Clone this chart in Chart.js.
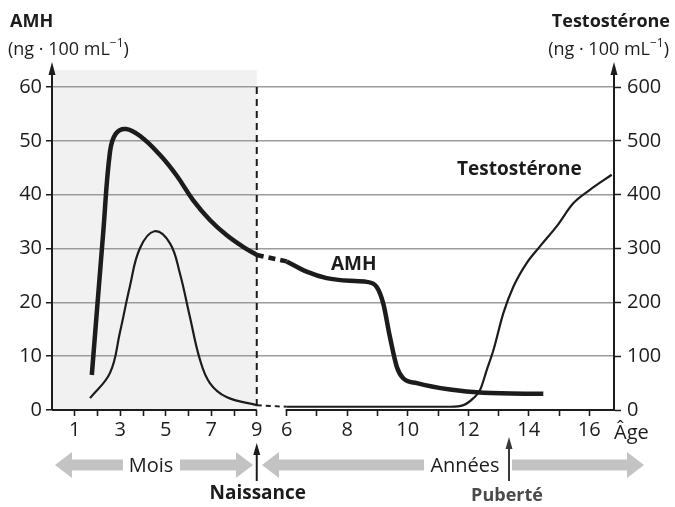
<!DOCTYPE html>
<html>
<head>
<meta charset="utf-8">
<script src="https://cdn.jsdelivr.net/npm/chart.js@4/dist/chart.umd.min.js"></script>
<style>
  html, body { margin: 0; padding: 0; background: #fff; }
  canvas { display: block; }
</style>
</head>
<body>
<canvas id="c" width="675" height="507"></canvas>
<script>
// ---------- DATA ----------
// AMH (ng·100 mL-1), first months (foetal, months of gestation)
const amhMonthAge   = [1.75, 2.25, 2.55, 2.8, 3.25, 3.9, 4.74, 5.47, 6.2, 6.94, 7.67, 8.4, 9.0];
const amhMonthValue = [6.5, 32.9, 48.0, 51.3, 52.2, 50.8, 47.4, 43.6, 39.0, 35.3, 32.5, 30.3, 28.8];
// AMH after birth (years)
const amhYearAge    = [6.0, 6.66, 7.32, 8.09, 8.64, 8.97, 9.19, 9.41, 9.64, 9.85, 10.30, 11.40, 12.50, 14.48];
const amhYearValue  = [27.6, 25.7, 24.5, 24.0, 23.8, 22.9, 19.8, 13.6, 8.0, 5.9, 5.0, 3.8, 3.2, 3.0];
// Testosterone (ng·100 mL-1), months
const testoMonthAge   = [1.67, 2.55, 2.98, 3.42, 3.86, 4.5, 5.18, 5.62, 6.06, 6.5, 6.94, 7.67, 9.0];
const testoMonthValue = [22, 69, 143, 229, 300, 332, 310, 254, 173, 94, 50, 24, 9];
// Testosterone, years
const testoYearAge   = [6.0, 10.41, 11.40, 11.84, 12.17, 12.39, 12.61, 12.83, 13.16, 13.49, 13.93, 14.37, 14.92, 15.47, 16.02, 16.74];
const testoYearValue = [6, 6, 6, 9, 22, 37, 74, 111, 180, 229, 273, 304, 341, 384, 409, 437];

// Tick labels
const monthTicks = [1, 2, 3, 4, 5, 6, 7, 8, 9];
const monthTickLabels = ['1', '', '3', '', '5', '', '7', '', '9'];
const yearTicks = [6, 7, 8, 9, 10, 11, 12, 13, 14, 15, 16];
const yearTickLabels = ['6', '', '8', '', '10', '', '12', '', '14', '', '16'];
const amhAxis = { min: 0, max: 60, step: 10 };
const testoAxis = { min: 0, max: 600, step: 100 };

// ---------- broken age axis: months, then years ----------
const MONTH_W = 22.75;
const YEAR0 = 234.7, YEAR_W = 30.26;
const posMonth = m => m * MONTH_W;
const posYear = y => YEAR0 + (y - 6) * YEAR_W;
const X_MAX = 562;

const xTickList = monthTicks.map((m, i) => ({ pos: posMonth(m), label: monthTickLabels[i] }))
  .concat(yearTicks.map((y, i) => ({ pos: posYear(y), label: yearTickLabels[i] })));

const zip = (xs, ys, f) => xs.map((x, i) => ({ x: f(x), y: ys[i] }));

const FONT = '"Open Sans", "Noto Sans", sans-serif';
const INK = '#1c1c1c';
const SMOOTH = { cubicInterpolationMode: 'default', tension: 0.4 };
const MONO = { cubicInterpolationMode: 'monotone' };

const datasets = [
  Object.assign({ data: zip(testoMonthAge, testoMonthValue, posMonth), yAxisID: 'y1', borderColor: INK, borderWidth: 2.2 }, SMOOTH),
  { data: [{ x: posMonth(testoMonthAge[testoMonthAge.length - 1]), y: testoMonthValue[testoMonthValue.length - 1] },
           { x: posYear(testoYearAge[0]), y: testoYearValue[0] }],
    yAxisID: 'y1', borderColor: INK, borderWidth: 2, borderDash: [5, 4] },
  Object.assign({ data: zip(testoYearAge, testoYearValue, posYear), yAxisID: 'y1', borderColor: INK, borderWidth: 2.2 }, MONO),
  Object.assign({ data: zip(amhMonthAge, amhMonthValue, posMonth), yAxisID: 'y', borderColor: INK, borderWidth: 4.5 }, SMOOTH),
  { data: [{ x: posMonth(amhMonthAge[amhMonthAge.length - 1]), y: amhMonthValue[amhMonthValue.length - 1] },
           { x: posYear(amhYearAge[0]), y: amhYearValue[0] }],
    yAxisID: 'y', borderColor: INK, borderWidth: 4.5, borderDash: [7, 5] },
  Object.assign({ data: zip(amhYearAge, amhYearValue, posYear), yAxisID: 'y', borderColor: INK, borderWidth: 4.5 }, MONO)
].map(d => Object.assign({ showLine: true, pointRadius: 0, fill: false, borderCapStyle: 'butt', borderJoinStyle: 'round' }, d));

function arrowHead(ctx, x, y, w, h, color) {
  ctx.fillStyle = color;
  ctx.beginPath();
  ctx.moveTo(x, y);
  ctx.lineTo(x - w / 2, y + h);
  ctx.lineTo(x + w / 2, y + h);
  ctx.closePath();
  ctx.fill();
}

function bigArrow(ctx, x1, x2, yc, color) {
  const bh = 11, hh = 26, hl = 17;
  ctx.fillStyle = color;
  ctx.beginPath();
  ctx.moveTo(x1, yc);
  ctx.lineTo(x1 + hl, yc - hh / 2);
  ctx.lineTo(x1 + hl, yc - bh / 2);
  ctx.lineTo(x2 - hl, yc - bh / 2);
  ctx.lineTo(x2 - hl, yc - hh / 2);
  ctx.lineTo(x2, yc);
  ctx.lineTo(x2 - hl, yc + hh / 2);
  ctx.lineTo(x2 - hl, yc + bh / 2);
  ctx.lineTo(x1 + hl, yc + bh / 2);
  ctx.lineTo(x1 + hl, yc + hh / 2);
  ctx.closePath();
  ctx.fill();
}

function drawUnit(ctx, x, y, alignRight) {
  const main = '18px ' + FONT, sup = '12px ' + FONT;
  ctx.textAlign = 'left'; ctx.textBaseline = 'alphabetic';
  ctx.font = main;
  const w1 = ctx.measureText('(ng · 100 mL').width;
  const w3 = ctx.measureText(')').width;
  ctx.font = sup;
  const w2 = ctx.measureText('−1').width;
  const sx = alignRight ? x - (w1 + w2 + w3) : x;
  ctx.font = main; ctx.fillText('(ng · 100 mL', sx, y);
  ctx.font = sup; ctx.fillText('−1', sx + w1, y - 8);
  ctx.font = main; ctx.fillText(')', sx + w1 + w2, y);
}

const decor = {
  id: 'decor',
  beforeDraw(chart) {
    const { ctx, chartArea: a, scales } = chart;
    ctx.save();
    ctx.fillStyle = '#fff';
    ctx.fillRect(0, 0, chart.width, chart.height);
    const xb = scales.x.getPixelForValue(posMonth(9));
    ctx.fillStyle = '#f1f1f1';
    ctx.fillRect(a.left, 70, xb - a.left, a.bottom - 70);
    ctx.restore();
  },
  beforeDatasetsDraw(chart) {
    const { ctx, chartArea: a, scales } = chart;
    const xb = scales.x.getPixelForValue(posMonth(9));
    const xy = scales.x.getPixelForValue(posYear(6));
    ctx.save();
    // birth dashed line
    ctx.strokeStyle = INK; ctx.lineWidth = 2; ctx.setLineDash([7, 5]);
    ctx.beginPath(); ctx.moveTo(xb, a.top); ctx.lineTo(xb, a.bottom); ctx.stroke();
    ctx.setLineDash([]);
    // broken x axis line
    ctx.lineWidth = 2;
    ctx.beginPath();
    ctx.moveTo(a.left, a.bottom); ctx.lineTo(xb, a.bottom);
    ctx.moveTo(xy - 1, a.bottom); ctx.lineTo(a.right, a.bottom);
    ctx.stroke();
    // axis extensions + arrows
    ctx.beginPath();
    ctx.moveTo(a.left, a.top); ctx.lineTo(a.left, 72);
    ctx.moveTo(a.right, a.top); ctx.lineTo(a.right, 72);
    ctx.stroke();
    arrowHead(ctx, a.left, 62, 7, 13, INK);
    arrowHead(ctx, a.right, 62, 7, 13, INK);
    ctx.restore();
  },
  afterDraw(chart) {
    const { ctx, scales } = chart;
    const xb = scales.x.getPixelForValue(posMonth(9));
    ctx.save();
    ctx.fillStyle = INK;
    ctx.textBaseline = 'alphabetic';
    // axis titles
    ctx.font = 'bold 18px ' + FONT; ctx.textAlign = 'left';
    ctx.fillText('AMH', 10, 27);
    drawUnit(ctx, 8, 55, false);
    ctx.font = 'bold 18px ' + FONT; ctx.textAlign = 'right';
    ctx.fillText('Testostérone', 670, 27);
    drawUnit(ctx, 669, 55, true);
    // curve labels
    ctx.font = 'bold 19px ' + FONT; ctx.textAlign = 'left';
    ctx.fillText('AMH', 331, 270);
    ctx.fillText('Testostérone', 457, 175);
    // Âge
    ctx.font = '20px ' + FONT; ctx.textAlign = 'left';
    ctx.fillText('Âge', 614, 439);
    // big grey arrows
    const yc = 465;
    bigArrow(ctx, 55, 253, yc, '#c3c3c3');
    bigArrow(ctx, 262, 644, yc, '#c3c3c3');
    ctx.fillStyle = '#fff';
    ctx.fillRect(123, yc - 7, 57, 14);
    ctx.fillRect(424, yc - 7, 88, 14);
    ctx.fillStyle = INK;
    ctx.font = '20px ' + FONT; ctx.textAlign = 'center';
    ctx.fillText('Mois', 151, 472);
    ctx.fillText('Années', 465, 472);
    // Naissance arrow
    ctx.strokeStyle = INK; ctx.lineWidth = 2;
    ctx.beginPath(); ctx.moveTo(xb, 481); ctx.lineTo(xb, 452); ctx.stroke();
    arrowHead(ctx, xb, 443, 7, 12, INK);
    ctx.font = 'bold 19px ' + FONT;
    ctx.fillText('Naissance', xb + 1, 499);
    // Puberté arrow
    const xp = 509;
    ctx.strokeStyle = '#3a3a3a';
    ctx.beginPath(); ctx.moveTo(xp, 481); ctx.lineTo(xp, 446); ctx.stroke();
    arrowHead(ctx, xp, 437, 7, 12, '#3a3a3a');
    ctx.fillStyle = '#4a4a4a';
    ctx.font = 'bold 18px ' + FONT;
    ctx.fillText('Puberté', xp - 2, 501);
    ctx.restore();
  }
};

new Chart(document.getElementById('c'), {
  type: 'scatter',
  data: { datasets },
  options: {
    responsive: false,
    animation: false,
    events: [],
    layout: { padding: { top: 87, left: 0, right: 0, bottom: 0 } },
    plugins: { legend: { display: false }, tooltip: { enabled: false } },
    scales: {
      x: {
        type: 'linear', min: 0, max: X_MAX,
        afterFit: s => { s.height = 97; },
        afterBuildTicks: s => { s.ticks = xTickList.map(t => ({ value: t.pos })); },
        ticks: {
          autoSkip: false, maxRotation: 0, minRotation: 0, padding: 2,
          color: INK, font: { family: FONT, size: 20 },
          callback: (v, i) => xTickList[i] ? xTickList[i].label : ''
        },
        grid: { drawOnChartArea: false, drawTicks: true, tickLength: 6, tickColor: INK, tickWidth: 1.6 },
        border: { display: false }
      },
      y: {
        position: 'left', min: amhAxis.min, max: amhAxis.max,
        afterFit: s => { s.width = 52; },
        ticks: { stepSize: amhAxis.step, padding: 4, color: INK, font: { family: FONT, size: 20 } },
        grid: {
          color: c => c.tick && c.tick.value === 0 ? 'rgba(0,0,0,0)' : '#9c9c9c',
          lineWidth: 1.5, tickLength: 6, tickColor: INK, tickWidth: 1.5
        },
        border: { color: INK, width: 2 }
      },
      y1: {
        position: 'right', min: testoAxis.min, max: testoAxis.max,
        afterFit: s => { s.width = 61; },
        ticks: { stepSize: testoAxis.step, padding: 6, color: INK, font: { family: FONT, size: 20 } },
        grid: { drawOnChartArea: false, tickLength: 7, tickColor: INK, tickWidth: 1.5 },
        border: { color: INK, width: 2 }
      }
    }
  },
  plugins: [decor]
});
</script>
</body>
</html>
